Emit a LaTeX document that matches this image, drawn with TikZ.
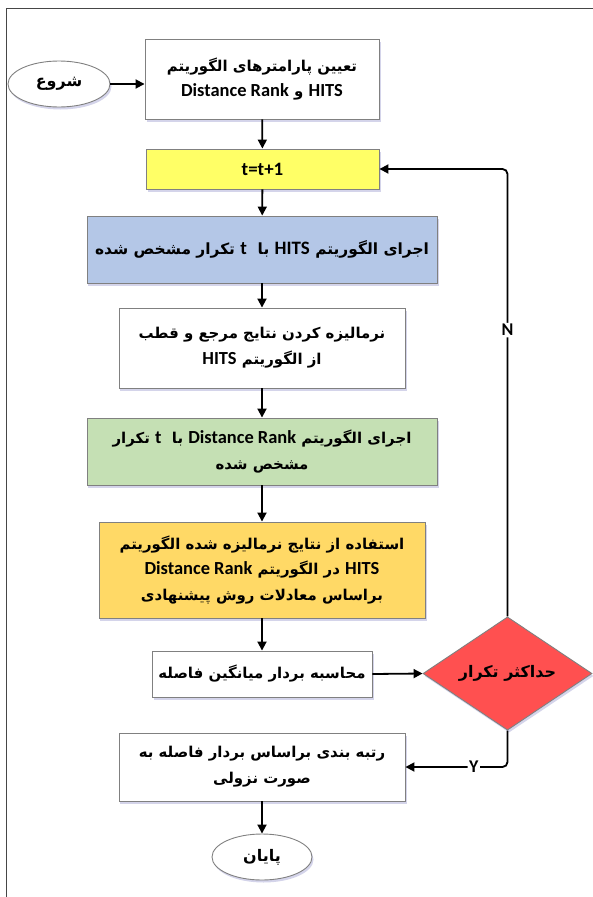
\documentclass[tikz,border=0pt]{standalone}
\usepackage{fontspec}
\usetikzlibrary{shapes.geometric,arrows.meta,shadows}
\TeXXeTstate=1
\newfontfamily\arabicfont[Script=Arabic]{DejaVu Sans}
\newfontfamily\latfont{Carlito}
\def\latsize{18.5}
\newcommand\fa[1]{{\arabicfont\bfseries\beginR #1\endR}}
\newcommand\lat[1]{\beginL{\latfont\bfseries\fontsize{\latsize}{26}\selectfont #1}\endL{}}
\definecolor{cyel}{RGB}{255,255,102}
\definecolor{cblu}{RGB}{180,199,231}
\definecolor{cgrn}{RGB}{197,224,180}
\definecolor{corg}{RGB}{255,217,102}
\definecolor{cred}{RGB}{255,80,80}
\definecolor{cbrd}{RGB}{128,128,128}
\definecolor{cfrm}{RGB}{70,70,70}
\tikzset{
  shd/.style={drop shadow={shadow xshift=1.5bp,shadow yshift=-2.5bp,fill=blue!35!gray,opacity=.25}},
  box/.style={rectangle,draw=cbrd,line width=0.9bp,fill=white,shd,align=center,inner sep=0pt,
    font=\fontsize{15}{26}\selectfont},
  term/.style={ellipse,draw=cbrd,line width=0.9bp,fill=white,shd,inner sep=0pt,
    font=\fontsize{16}{26}\selectfont},
  dec/.style={diamond,draw=cbrd,line width=0.9bp,fill=cred,shd,inner sep=0pt,
    font=\fontsize{16}{26}\selectfont},
  arr/.style={line width=1.8bp,-{Triangle[length=9bp,width=9bp]}},
  lbl/.style={fill=white,inner sep=1.5bp,font=\latfont\bfseries\fontsize{18}{20}\selectfont}
}
\begin{document}
\begin{tikzpicture}[x=1bp,y=-1bp]
\useasboundingbox (0,0) rectangle (593,897);
\draw[cfrm,line width=1.5bp] (6.5,897) -- (6.5,8.5) -- (593,8.5);

\node[term,minimum width=102bp,minimum height=46bp] (start) at (59,84) {\fa{شروع}};
\node[box,minimum width=234bp,minimum height=80bp] (b1) at (262,79)
  {\fa{تعیین پارامترهای الگوریتم}\\\fa{\lat{HITS} و \lat{Distance Rank}}};
\node[box,fill=cyel,minimum width=233bp,minimum height=40bp,font=\latfont\bfseries\fontsize{19}{22}\selectfont] (bt) at (262.5,169) {t=t+1};
\node[box,fill=cblu,minimum width=350bp,minimum height=67bp,font=\fontsize{15.5}{26}\selectfont\def\latsize{19}] (bh) at (262,249.5)
  {\fa{اجرای الگوریتم \lat{HITS} با \ \lat{t} تکرار مشخص شده}};
\node[box,minimum width=286bp,minimum height=80bp] (bn) at (262,348)
  {\fa{نرمالیزه کردن نتایج مرجع و قطب}\\\fa{از الگوریتم \lat{HITS}}};
\node[box,fill=cgrn,minimum width=350bp,minimum height=67bp] (bg) at (262,451.5)
  {\fa{اجرای الگوریتم \lat{Distance Rank} با \ \lat{t} تکرار}\\\fa{مشخص شده}};
\node[box,fill=corg,minimum width=326bp,minimum height=96bp] (bo) at (262,570)
  {\fa{استفاده از نتایج نرمالیزه شده الگوریتم}\\\fa{\lat{HITS} در الگوریتم \lat{Distance Rank}}\\\fa{براساس معادلات روش پیشنهادی}};
\node[box,minimum width=220bp,minimum height=46bp] (ba) at (262,674)
  {\fa{محاسبه بردار میانگین فاصله}};
\node[dec,minimum width=169bp,minimum height=111bp] (dm) at (507.5,673.5)
  {\fa{حداکثر تکرار}};
\node[box,minimum width=286bp,minimum height=68bp] (br) at (262,767)
  {\fa{رتبه بندی براساس بردار فاصله به}\\\fa{صورت نزولی}};
\node[term,minimum width=100bp,minimum height=46bp] (end) at (262,857) {\fa{پایان}};

\draw[arr] (start.east) -- (start.east -| b1.west);
\draw[arr] (b1) -- (bt);
\draw[arr] (bt) -- (bh);
\draw[arr] (bh) -- (bn);
\draw[arr] (bn) -- (bg);
\draw[arr] (bg) -- (bo);
\draw[arr] (bo) -- (ba);
\draw[arr] (ba.east) -- (dm.west);
\draw[arr] (br) -- (end);
\draw[arr,rounded corners=5bp] (dm.north) -- node[lbl,pos=0.64]{N} (dm.north |- bt.east) -- (bt.east);
\draw[arr,rounded corners=5bp] (dm.south) -- (dm.south |- br.east) -- node[lbl,pos=0.33]{Y} (br.east);
\end{tikzpicture}
\end{document}
